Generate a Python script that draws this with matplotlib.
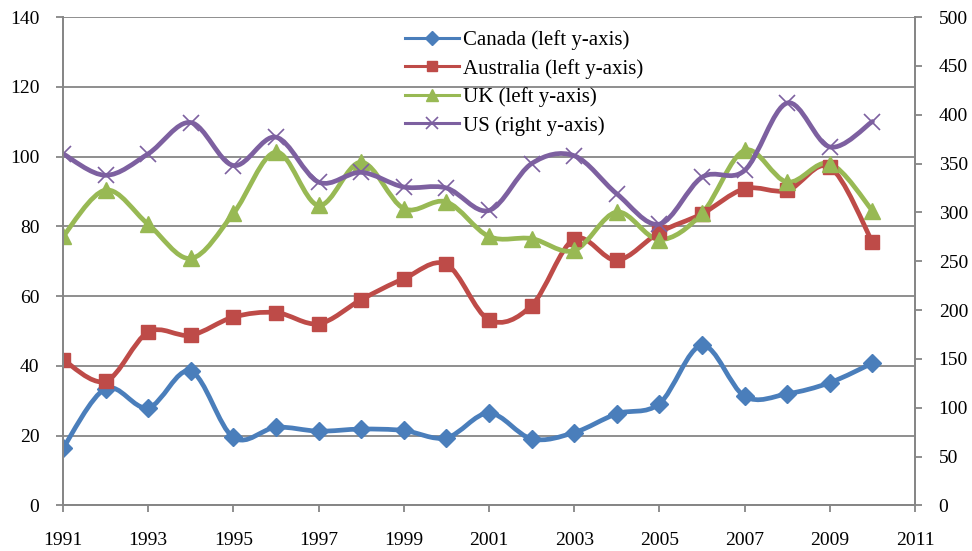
import numpy as np
import matplotlib
matplotlib.use("Agg")
import matplotlib.pyplot as plt
from matplotlib.path import Path
from matplotlib.patches import PathPatch
from matplotlib.lines import Line2D

plt.rcParams['font.family'] = ['Liberation Serif', 'DejaVu Serif']

years = list(range(1991, 2011))
canada = [16.4, 33.5, 28.0, 38.5, 19.5, 22.4, 21.3, 21.9, 21.5, 19.4,
          26.5, 19.1, 20.9, 26.3, 29.2, 45.9, 31.3, 32.0, 35.2, 40.8]
australia = [41.8, 35.6, 49.7, 48.8, 54.0, 55.3, 52.1, 59.0, 65.0, 69.1,
             53.2, 57.3, 76.4, 70.3, 78.3, 83.6, 90.8, 90.3, 97.0, 75.5]
uk = [77.1, 90.4, 80.6, 70.8, 83.7, 101.3, 86.0, 98.4, 85.1, 87.0,
      77.1, 76.5, 73.1, 84.1, 76.2, 83.7, 101.8, 92.7, 98.0, 84.5]
us = [360, 338, 360, 392, 348, 377, 331, 341, 326, 325,
      302, 350, 358, 319, 288, 336, 343, 412, 367, 393]

c_blue = '#4A7EBB'
c_red = '#BE4B48'
c_green = '#98B954'
c_purple = '#7D60A0'
grid_c = '#868686'


def smooth_path(x, y):
    # excel style smoothed line: cubic bezier through the points
    n = len(x)
    verts = [(x[0], y[0])]
    codes = [Path.MOVETO]
    for i in range(n - 1):
        a = i - 1 if i > 0 else i
        d = i + 2 if i + 2 < n else i + 1
        c1 = (x[i] + (x[i + 1] - x[a]) / 6, y[i] + (y[i + 1] - y[a]) / 6)
        c2 = (x[i + 1] - (x[d] - x[i]) / 6, y[i + 1] - (y[d] - y[i]) / 6)
        verts += [c1, c2, (x[i + 1], y[i + 1])]
        codes += [Path.CURVE4] * 3
    return Path(verts, codes)


fig = plt.figure(figsize=(9.72, 5.51), dpi=100)
ax = fig.add_axes([0.0648, 0.0826, 0.8766, 0.8865])
ax2 = ax.twinx()

lw = 3.4
series = [
    (ax, canada, c_blue, 'D', 9.5, 'Canada (left y-axis)'),
    (ax, australia, c_red, 's', 10.5, 'Australia (left y-axis)'),
    (ax, uk, c_green, '^', 11.5, 'UK (left y-axis)'),
    (ax2, us, c_purple, 'x', 11.5, 'US (right y-axis)'),
]
handles = []
for a, vals, col, mk, ms, lab in series:
    a.add_patch(PathPatch(smooth_path(years, vals), fill=False, edgecolor=col,
                          lw=lw, capstyle='round', joinstyle='round'))
    if mk == 'x':
        a.plot(years, vals, linestyle='none', marker=mk, ms=ms, mec=col, mew=1.2)
        h = Line2D([], [], color=col, lw=2.2, marker=mk, ms=ms * 0.75, mec=col, mew=1.2)
    else:
        a.plot(years, vals, linestyle='none', marker=mk, ms=ms, mfc=col, mec=col)
        h = Line2D([], [], color=col, lw=2.2, marker=mk, ms=ms * 0.75, mfc=col, mec=col)
    handles.append((h, lab))

ax.set_xlim(1991, 2011)
ax.set_ylim(0, 140)
ax2.set_ylim(0, 500)
ax.set_xticks(range(1991, 2012, 2))
ax.set_yticks(range(0, 141, 20))
ax2.set_yticks(range(0, 501, 50))

ax.yaxis.grid(True, color=grid_c, lw=1.3)
ax.set_axisbelow(True)

for a in (ax, ax2):
    for s in a.spines.values():
        s.set_color(grid_c)
        s.set_linewidth(1.3)
    a.spines['top'].set_visible(False)
    a.tick_params(colors=grid_c, labelcolor='black', labelsize=14,
                  length=5, width=1.3, direction='out')
ax.tick_params(axis='x', pad=14)
ax.tick_params(axis='y', pad=12)
ax2.tick_params(axis='y', pad=12)

ax2.legend([h for h, _ in handles], [l for _, l in handles],
           loc='upper left', bbox_to_anchor=(405 / 972, 1 - 30 / 551),
           bbox_transform=fig.transFigure, frameon=False, fontsize=15,
           handlelength=2.6, handletextpad=0.2, labelspacing=0.42,
           borderaxespad=0, borderpad=0, numpoints=1)

fig.savefig('out.png', dpi=100)
